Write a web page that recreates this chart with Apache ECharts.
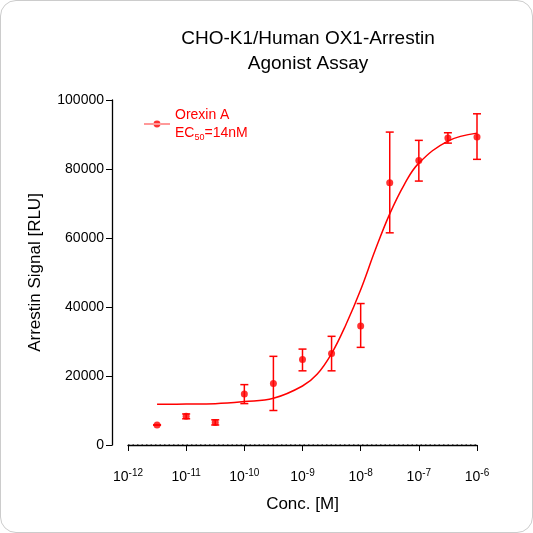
<!DOCTYPE html><html><head><meta charset="utf-8">
<script src="https://cdn.jsdelivr.net/npm/echarts@6/dist/echarts.min.js"></script>
<style>html,body{margin:0;padding:0;background:#fff}#c{width:531px;height:531px;border:1px solid #ccc;border-radius:16px;overflow:hidden}</style>
</head><body><div id="c"></div><script>
const conc=[3.16e-12,1e-11,3.16e-11,1e-10,3.16e-10,1e-9,3.16e-9,1e-8,3.16e-8,1e-7,3.16e-7,1e-6];
const mean=[5800,8300,6500,14800,17800,24800,26500,34500,76000,82500,89000,89300];
const errLow=[5800,7600,5800,12000,10000,21500,21500,28300,61500,76500,87500,82800];
const errHigh=[5800,9000,7300,17500,25700,27800,31500,41000,90700,88300,90500,96000];
const curveX=[3.16e-12,1e-11,3.16e-11,1e-10,3.16e-10,1e-9,1.78e-9,3.16e-9,5.62e-9,1e-8,1.78e-8,3.16e-8,5.62e-8,1e-7,3.16e-7,1e-6];
const curveY=[11800,11860,11980,12580,13530,17100,20500,26500,35000,45000,56500,67000,75500,81700,88100,90400];
const red='#ff0000';
const ch=echarts.init(document.getElementById('c'));
ch.setOption({
 animation:false,
 title:{text:'CHO-K1/Human OX1-Arrestin\nAgonist Assay',left:302,top:20,textAlign:'center',textStyle:{fontFamily:'Liberation Sans',fontWeight:'normal',fontSize:19,lineHeight:25,color:'#000'}},
 legend:{left:138,top:100,itemWidth:26,itemHeight:8,data:[{name:'Orexin A',icon:'path://M0,3.3L30,3.3L30,4.7L0,4.7Z M11,4a4,4 0 1,0 8,0a4,4 0 1,0 -8,0Z'}],
   formatter:()=>'Orexin A\nEC{sub|50}=14nM',
   textStyle:{color:red,fontSize:14,fontFamily:'Liberation Sans',lineHeight:18,rich:{sub:{fontSize:9,color:red,verticalAlign:'bottom',padding:[8,0,0,0]}}}},
 grid:{left:127,right:55,top:99,bottom:87},
 xAxis:{type:'log',min:1e-12,max:1e-6,offset:15,
   axisLine:{lineStyle:{color:'#000',width:1.3}},axisTick:{length:6,lineStyle:{color:'#000'}},
   splitLine:{show:false},
   axisLabel:{color:'#000',fontSize:14,fontFamily:'Liberation Sans',formatter:v=>'10{s|'+Math.round(Math.log10(v))+'}',rich:{s:{fontSize:10,verticalAlign:'top',padding:[0,0,8,0]}}},
   name:'Conc. [M]',nameLocation:'middle',nameGap:36,nameTextStyle:{color:'#000',fontSize:17,fontFamily:'Liberation Sans'}},
 yAxis:{type:'value',min:0,max:100000,interval:20000,offset:16,
   axisLine:{show:true,lineStyle:{color:'#000',width:1.3}},axisTick:{show:true,length:6,lineStyle:{color:'#000'}},splitLine:{show:false},
   axisLabel:{color:'#000',fontSize:14,fontFamily:'Liberation Sans',formatter:v=>String(v)},
   name:'Arrestin Signal [RLU]',nameLocation:'middle',nameGap:68,nameTextStyle:{color:'#000',fontSize:17,fontFamily:'Liberation Sans'}},
 series:[
  {name:'zero',type:'line',data:[[1e-12,0],[1e-6,0]],showSymbol:false,silent:true,lineStyle:{color:'#000',type:[1.5,3],width:1},z:1},
  {name:'Orexin A',type:'scatter',data:conc.map((c,i)=>[c,mean[i]]),symbolSize:7,itemStyle:{color:red},z:5},
  {name:'fit',type:'line',data:curveX.map((c,i)=>[c,curveY[i]]),smooth:0.4,showSymbol:false,lineStyle:{color:red,width:1.5}},
  {name:'err',type:'custom',data:conc.map((c,i)=>[c,errLow[i],errHigh[i]]),z:4,
   renderItem:(p,api)=>{const a=api.coord([api.value(0),api.value(1)]),b=api.coord([api.value(0),api.value(2)]);const w=4;
    return {type:'group',children:[
     {type:'line',shape:{x1:a[0],y1:a[1],x2:b[0],y2:b[1]},style:{stroke:red,lineWidth:1.5}},
     {type:'line',shape:{x1:a[0]-w,y1:a[1],x2:a[0]+w,y2:a[1]},style:{stroke:red,lineWidth:1.5}},
     {type:'line',shape:{x1:b[0]-w,y1:b[1],x2:b[0]+w,y2:b[1]},style:{stroke:red,lineWidth:1.5}}]};}}
 ]
});
</script></body></html>
